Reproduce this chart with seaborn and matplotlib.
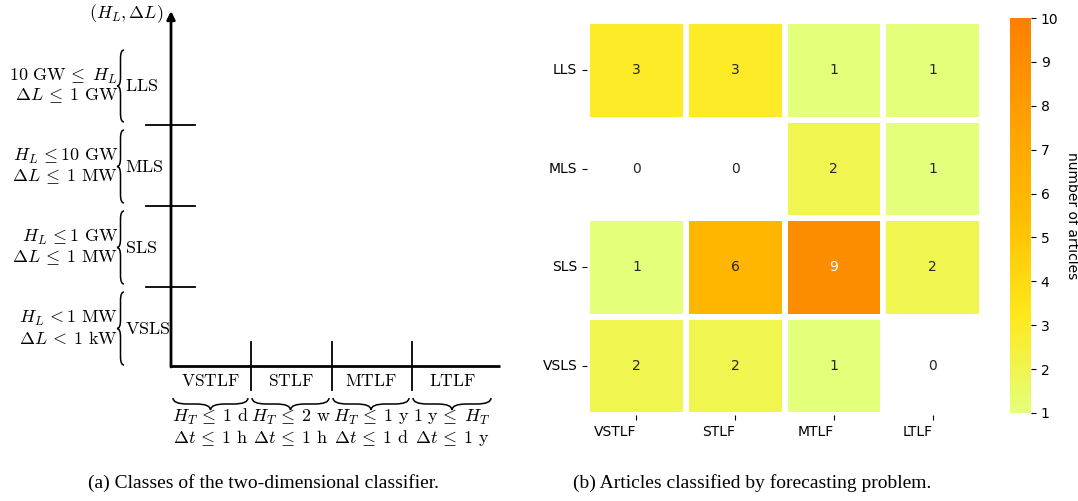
import numpy as np
import pandas as pd
import matplotlib
matplotlib.use("Agg")
import matplotlib.pyplot as plt
from matplotlib.path import Path
from matplotlib.patches import PathPatch
import seaborn as sns

# ─────────────────────────────────────────────
# Data
# ─────────────────────────────────────────────
load_classes = ["LLS", "MLS", "SLS", "VSLS"]
horizon_classes = ["VSTLF", "STLF", "MTLF", "LTLF"]

lls_counts = [3, 3, 1, 1]
mls_counts = [0, 0, 2, 1]
sls_counts = [1, 6, 9, 2]
vsls_counts = [2, 2, 1, 0]

LE = r"\,{\leq}\;"
LT = r"\,{<}\;"
load_conditions = [
    (r"$10\ \mathrm{GW}" + LE + r"H_L$", r"$\Delta L" + LE + r"1\ \mathrm{GW}$"),
    (r"$H_L\,{\leq}10\ \mathrm{GW}$", r"$\Delta L" + LE + r"1\ \mathrm{MW}$"),
    (r"$H_L\,{\leq}1\ \mathrm{GW}$", r"$\Delta L" + LE + r"1\ \mathrm{MW}$"),
    (r"$H_L\,{<}1\ \mathrm{MW}$", r"$\Delta L" + LT + r"1\ \mathrm{kW}$"),
]
horizon_conditions = [
    (r"$H_T" + LE + r"1\ \mathrm{d}$", r"$\Delta t" + LE + r"1\ \mathrm{h}$"),
    (r"$H_T" + LE + r"2\ \mathrm{w}$", r"$\Delta t" + LE + r"1\ \mathrm{h}$"),
    (r"$H_T" + LE + r"1\ \mathrm{y}$", r"$\Delta t" + LE + r"1\ \mathrm{d}$"),
    (r"$1\ \mathrm{y}" + LE + r"H_T$", r"$\Delta t" + LE + r"1\ \mathrm{y}$"),
]

counts = pd.DataFrame(
    [lls_counts, mls_counts, sls_counts, vsls_counts],
    index=load_classes, columns=horizon_classes,
)

plt.rcParams["mathtext.fontset"] = "cm"


# ─────────────────────────────────────────────
# Helpers
# ─────────────────────────────────────────────
def brace(ax, a0, a1, pos, w=6, vertical=True, lw=1.1):
    """Curly brace from a0 to a1 with its tip at pos; w sets depth and side."""
    m = (a0 + a1) / 2
    q = abs(w) * 1.2
    h = pos + w / 2
    pts = [(pos + w, a0), (h, a0), (h, a0 + q), (h, m - q), (h, m), (pos, m),
           (h, m), (h, m + q), (h, a1 - q), (h, a1), (pos + w, a1)]
    codes = [Path.MOVETO, Path.CURVE3, Path.CURVE3, Path.LINETO, Path.CURVE3,
             Path.CURVE3, Path.CURVE3, Path.CURVE3, Path.LINETO, Path.CURVE3,
             Path.CURVE3]
    if not vertical:
        pts = [(p[1], p[0]) for p in pts]
    ax.add_patch(PathPatch(Path(pts, codes), fill=False, lw=lw, color="black"))


fig = plt.figure(figsize=(10.78, 5.01), dpi=100)

# ─────────────────────────────────────────────
# (a) classifier diagram, drawn in pixel space
# ─────────────────────────────────────────────
axd = fig.add_axes([0, 0, 0.5, 1])
axd.set_xlim(0, 539)
axd.set_ylim(501, 0)
axd.axis("off")

x0, y0 = 171, 366
axd.annotate("", xy=(x0, 11), xytext=(x0, y0 + 1),
             arrowprops=dict(arrowstyle="-|>", lw=2, color="black",
                             mutation_scale=12, shrinkA=0, shrinkB=0))
axd.plot([x0, 500], [y0, y0], color="black", lw=2, solid_capstyle="butt")
axd.text(163, 14, r"$(H_L, \Delta L)$", ha="right", va="center", fontsize=13)

row_edges = [45, 125, 206, 287, 368]
for yt in row_edges[1:4]:
    axd.plot([146, 195], [yt, yt], color="black", lw=1.3)
col_edges = [172, 251, 332, 412, 494]
for xt in col_edges[1:4]:
    axd.plot([xt, xt], [342, 390], color="black", lw=1.3)

for i, name in enumerate(load_classes):
    top, bot = row_edges[i] + 5, row_edges[i + 1] - 3
    mid = (top + bot) / 2
    brace(axd, top, bot, 117, w=7, vertical=True)
    axd.text(125, mid, r"$\mathrm{%s}$" % name, ha="left", va="center", fontsize=13)
    c1, c2 = load_conditions[i]
    axd.text(118, mid - 10, c1, ha="right", va="center", fontsize=13)
    axd.text(118, mid + 10, c2, ha="right", va="center", fontsize=13)

for j, name in enumerate(horizon_classes):
    left, right = col_edges[j] + 1, col_edges[j + 1] - 3
    mid = (left + right) / 2
    axd.text(mid, 381, r"$\mathrm{%s}$" % name, ha="center", va="center", fontsize=12.5)
    brace(axd, left, right, 410, w=-12, vertical=False)
    c1, c2 = horizon_conditions[j]
    axd.text(mid, 417, c1, ha="center", va="center", fontsize=13)
    axd.text(mid, 438, c2, ha="center", va="center", fontsize=13)

fig.text(263 / 1078, 1 - 483 / 501, "(a) Classes of the two-dimensional classifier.",
         ha="center", va="center", fontsize=14, family="Liberation Serif")

# ─────────────────────────────────────────────
# (b) heatmap of articles
# ─────────────────────────────────────────────
ax = fig.add_axes([587 / 1078, 1 - 415 / 501, 395 / 1078, 394 / 501])
cax = fig.add_axes([1010 / 1078, 1 - 413 / 501, 21 / 1078, 395 / 501])

cmap = plt.get_cmap("Wistia").copy()
cmap.set_under("white")
sns.heatmap(counts, annot=True, cmap=cmap, vmin=1, vmax=10, linewidths=3,
            linecolor="white", ax=ax, cbar_ax=cax, annot_kws={"fontsize": 10})
ax.set_yticklabels(load_classes, rotation=0)
ax.set_xticklabels(horizon_classes, rotation=0, ha="right")
cbar = ax.collections[0].colorbar
cbar.set_ticks(range(1, 11))
cbar.set_label("number of articles", rotation=270, labelpad=15)

fig.text(752 / 1078, 1 - 483 / 501, "(b) Articles classified by forecasting problem.",
         ha="center", va="center", fontsize=14, family="Liberation Serif")

fig.savefig("out.png", dpi=100)
